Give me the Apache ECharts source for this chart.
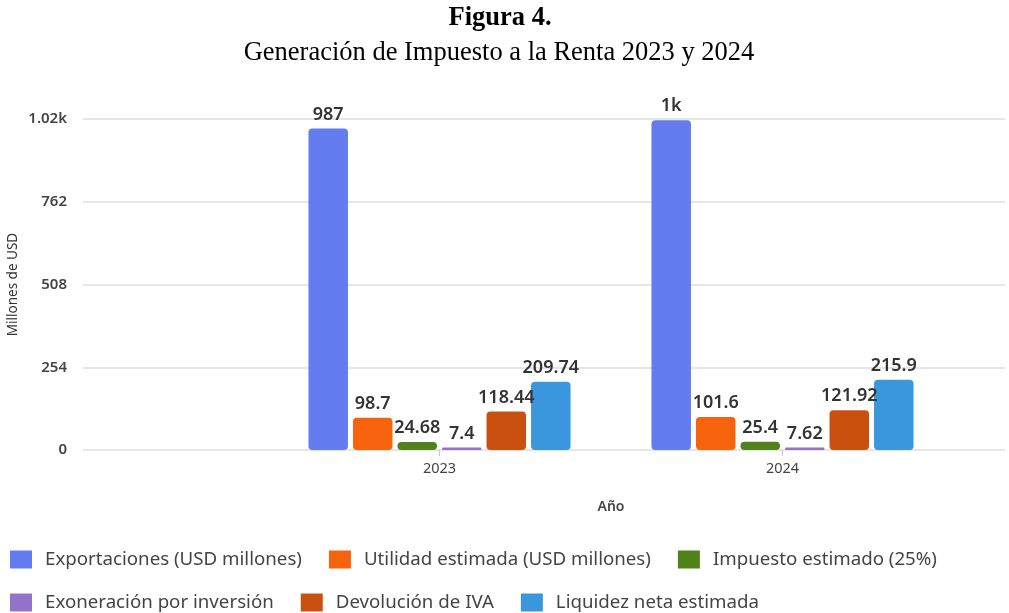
<!DOCTYPE html>
<html><head><meta charset="utf-8">
<script src="https://cdn.jsdelivr.net/npm/echarts@6/dist/echarts.min.js"></script>
<style>html,body{margin:0;padding:0;background:#fff}#c{width:1009px;height:613px}</style>
</head><body><div id="c"></div>
<script>
const categories = ['2023', '2024'];
const exportaciones = [987, 1012];
const utilidad = [98.7, 101.6];
const impuesto = [24.68, 25.4];
const exoneracion = [7.4, 7.62];
const devolucion = [118.44, 121.92];
const liquidez = [209.74, 215.9];
const seriesNames = ['Exportaciones (USD millones)', 'Utilidad estimada (USD millones)', 'Impuesto estimado (25%)', 'Exoneración por inversión', 'Devolución de IVA', 'Liquidez neta estimada'];
const colors = ['#637cef', '#f7630c', '#4f821a', '#9373c9', '#ca5010', '#3a96dd'];
const yTicks = { min: 0, max: 1016, interval: 254 };

const font = 'Noto Sans';
const seriesData = [exportaciones, utilidad, impuesto, exoneracion, devolucion, liquidez];
const chart = echarts.init(document.getElementById('c'));
const legendText = { fontFamily: font, fontSize: 18.7, color: '#444', padding: [0, 0, 0, 8] };
chart.setOption({
  animation: false,
  color: colors,
  textStyle: { fontFamily: font },
  title: [
    { text: 'Figura 4.', left: 495, top: 0, textAlign: 'center',
      textStyle: { fontFamily: 'Liberation Serif', fontWeight: 'bold', fontSize: 26.5, color: '#000' } },
    { text: 'Generación de Impuesto a la Renta 2023 y 2024', left: 494, top: 35, textAlign: 'center',
      textStyle: { fontFamily: 'Liberation Serif', fontWeight: 'normal', fontSize: 26.5, color: '#000' } }
  ],
  legend: [
    { data: seriesNames.slice(0, 3), left: 5, top: 545, itemWidth: 22, itemHeight: 18, itemGap: 27,
      icon: 'rect', textStyle: legendText },
    { data: seriesNames.slice(3), left: 5, top: 588, itemWidth: 22, itemHeight: 18, itemGap: 27,
      icon: 'rect', textStyle: legendText }
  ],
  grid: [
    { left: 83, right: 4, top: 119, bottom: 163, outerBoundsMode: 'none', containLabel: false },
    { left: 268, right: 55, top: 119, bottom: 163, outerBoundsMode: 'none', containLabel: false }
  ],
  xAxis: [
    { gridIndex: 0, type: 'value', show: false, min: 0, max: 1 },
    { gridIndex: 1, type: 'category', data: categories,
      axisLine: { show: false },
      axisTick: { show: true, alignWithLabel: true, length: 6, lineStyle: { color: '#c8c8c8' } },
      axisLabel: { fontFamily: font, fontSize: 14.5, color: '#444', margin: 11 },
      name: 'Año', nameLocation: 'middle', nameGap: 50, nameMoveOverlap: false,
      nameTextStyle: { fontFamily: font, fontSize: 14, fontWeight: 600, color: '#444' } }
  ],
  yAxis: [
    { gridIndex: 0, type: 'value', min: yTicks.min, max: yTicks.max, interval: yTicks.interval,
      axisLine: { show: false }, axisTick: { show: false },
      splitLine: { lineStyle: { color: '#dedede', width: 1.5 } },
      axisLabel: { fontFamily: font, fontSize: 15, fontWeight: 600, color: '#444', margin: 16,
        formatter: v => v >= 1000 ? (v / 1000).toFixed(2) + 'k' : String(v) },
      name: 'Millones de USD', nameLocation: 'middle', nameGap: 63, nameRotate: 90, nameMoveOverlap: false,
      nameTextStyle: { fontFamily: font, fontSize: 13.5, color: '#333' } },
    { gridIndex: 1, type: 'value', show: false, min: yTicks.min, max: yTicks.max, interval: yTicks.interval,
      splitLine: { show: false } }
  ],
  series: seriesNames.map((n, i) => ({
    name: n, type: 'bar', xAxisIndex: 1, yAxisIndex: 1,
    data: seriesData[i], barWidth: 39.5, barGap: '12.7%',
    itemStyle: { color: colors[i], borderRadius: 4 },
    label: { show: true, position: 'top', distance: 5, fontFamily: font, fontSize: 18, fontWeight: 600, color: '#333',
      formatter: p => p.value >= 1000 ? Math.round(p.value / 1000) + 'k' : String(p.value) }
  }))
});
</script></body></html>
